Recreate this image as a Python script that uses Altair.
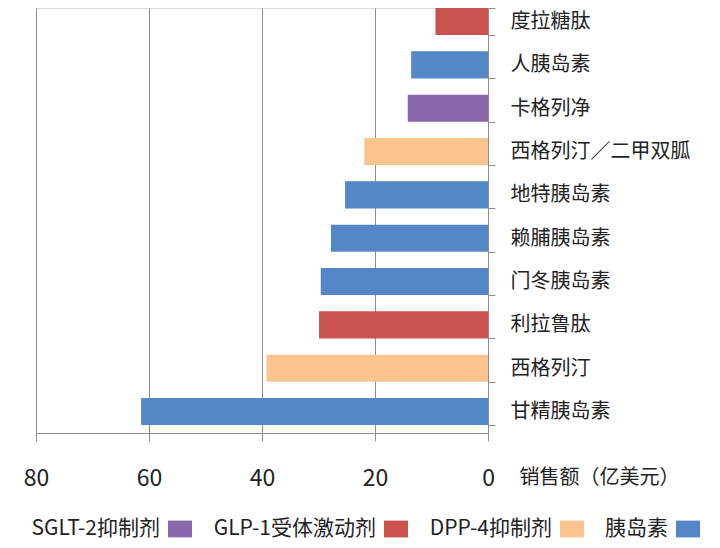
import altair as alt
import pandas as pd

drugs = ["度拉糖肽", "人胰岛素", "卡格列净", "西格列汀／二甲双胍", "地特胰岛素",
         "赖脯胰岛素", "门冬胰岛素", "利拉鲁肽", "西格列汀", "甘精胰岛素"]
sales = [9.3, 13.6, 14.2, 21.9, 25.3, 27.8, 29.6, 29.9, 39.2, 61.4]
classes = ["GLP-1受体激动剂", "胰岛素", "SGLT-2抑制剂", "DPP-4抑制剂", "胰岛素",
           "胰岛素", "胰岛素", "GLP-1受体激动剂", "DPP-4抑制剂", "胰岛素"]
legend_order = ["SGLT-2抑制剂", "GLP-1受体激动剂", "DPP-4抑制剂", "胰岛素"]
legend_colors = ["#8968AC", "#C9514E", "#FBC48F", "#5487C7"]
x_ticks = [0, 20, 40, 60, 80]

df = pd.DataFrame({"药品": drugs, "销售额": sales, "类别": classes})

FONT = "Noto Sans CJK SC"
GRID = "#8c8c8c"

chart = alt.Chart(df).mark_bar().encode(
    x=alt.X("销售额:Q",
            scale=alt.Scale(domain=[0, 80], reverse=True, nice=False, zero=True),
            axis=alt.Axis(values=x_ticks, title="销售额（亿美元）", grid=True,
                          gridColor=GRID, gridWidth=1, domainColor=GRID, tickColor=GRID,
                          tickSize=8, labelFontSize=23, labelPadding=37.8,
                          labelBaseline="middle", labelColor="#222222", labelFlush=False,
                          labelFont=FONT, titleFont=FONT,
                          titleX=563, titleY=44, titleAlign="center", titleBaseline="middle",
                          titleFontSize=20, titleFontWeight="normal", titleAngle=0,
                          titleColor="#222222")),
    y=alt.Y("药品:N", sort=drugs,
            scale=alt.Scale(paddingInner=0.375, paddingOuter=0.0915, align=0),
            axis=alt.Axis(orient="right", title=None, tickBand="extent", tickSize=7,
                          labelPadding=15, labelFontSize=20, labelColor="#222222",
                          labelFont=FONT, domainColor=GRID, tickColor=GRID,
                          labelLimit=300, grid=False)),
    color=alt.Color("类别:N",
                    scale=alt.Scale(domain=legend_order, range=legend_colors),
                    legend=alt.Legend(orient="none", legendX=132, legendY=509,
                                      direction="horizontal", title=None,
                                      symbolType="M-1,-0.7H1V0.7H-1Z", symbolSize=576,
                                      symbolStrokeWidth=0, labelAlign="right",
                                      labelOffset={"expr": "-32"}, labelFontSize=21,
                                      labelFont=FONT,
                                      labelColor="#222222", columnPadding=21,
                                      labelLimit=300)),
).properties(
    width=452, height=425,
    autosize=alt.AutoSizeParams(type="none"),
    padding={"left": 28, "top": 0, "right": 220, "bottom": 107},
).configure_view(stroke=None).configure(background="white")

chart.save("out.html", embed_options={"renderer": "svg", "actions": False})
